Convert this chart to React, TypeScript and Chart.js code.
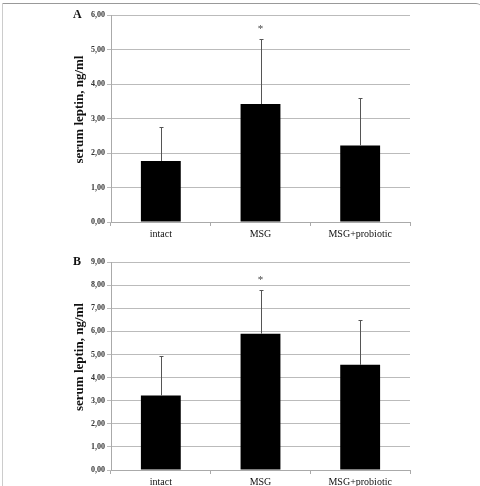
import React, { useEffect, useRef } from 'react';
import { Chart, registerables } from 'chart.js';

Chart.register(...registerables);

const categories = ['intact', 'MSG', 'MSG+probiotic'];

const meansA = [1.77, 3.42, 2.22];
const errorsA = [0.97, 1.87, 1.37];
const marksA = ['', '*', ''];
const yMaxA = 6;

const meansB = [3.22, 5.9, 4.55];
const errorsB = [1.7, 1.9, 1.92];
const marksB = ['', '*', ''];
const yMaxB = 9;

const yTitle = 'serum leptin, ng/ml';

type PanelProps = {
  letter: string;
  means: number[];
  errors: number[];
  marks: string[];
  yMax: number;
  padTop: number;
  padBottomAxis: number;
  height: number;
};

function Panel({ letter, means, errors, marks, yMax, padTop, padBottomAxis, height }: PanelProps) {
  const ref = useRef<HTMLCanvasElement | null>(null);

  useEffect(() => {
    if (!ref.current) return;
    const overlay = {
      id: 'overlay',
      afterDatasetsDraw(chart: any) {
        const ctx = chart.ctx;
        const meta = chart.getDatasetMeta(0);
        const ys = chart.scales.y;
        ctx.save();
        meta.data.forEach((el: any, i: number) => {
          const top = ys.getPixelForValue(means[i] + errors[i]);
          const x = Math.round(el.x) + 0.5;
          ctx.strokeStyle = '#555';
          ctx.lineWidth = 1;
          ctx.beginPath();
          ctx.moveTo(x, el.y);
          ctx.lineTo(x, Math.round(top) + 0.5);
          ctx.moveTo(x - 2, Math.round(top) + 0.5);
          ctx.lineTo(x + 2, Math.round(top) + 0.5);
          ctx.stroke();
          if (marks[i]) {
            ctx.fillStyle = '#444';
            ctx.font = '11px "Liberation Serif", serif';
            ctx.textAlign = 'center';
            ctx.textBaseline = 'middle';
            ctx.fillText(marks[i], el.x, top - 10);
          }
        });
        ctx.restore();
      },
      afterDraw(chart: any) {
        const ctx = chart.ctx;
        const a = chart.chartArea;
        ctx.save();
        ctx.fillStyle = '#111';
        ctx.font = 'bold 12px "Liberation Serif", serif';
        ctx.textAlign = 'left';
        ctx.textBaseline = 'middle';
        ctx.fillText(letter, 73, a.top);
        ctx.translate(80, (a.top + a.bottom) / 2 - 9);
        ctx.rotate(-Math.PI / 2);
        ctx.textAlign = 'center';
        ctx.font = 'bold 13px "Liberation Serif", serif';
        ctx.fillText(yTitle, 0, 0);
        ctx.restore();
      },
    };

    const chart = new Chart(ref.current, {
      type: 'bar',
      data: {
        labels: categories,
        datasets: [
          {
            data: means,
            backgroundColor: '#000',
            borderWidth: 0,
            barPercentage: 0.4,
            categoryPercentage: 1,
          },
        ],
      },
      options: {
        animation: false,
        responsive: false,
        devicePixelRatio: 1,
        layout: { padding: { left: 0, right: 70, top: padTop, bottom: 0 } },
        plugins: {
          legend: { display: false },
          tooltip: { enabled: false },
        },
        scales: {
          x: {
            grid: { display: true, drawOnChartArea: false, tickLength: 4, color: '#aaa', offset: true },
            border: { color: '#aaa' },
            ticks: {
              color: '#111',
              padding: 2,
              font: { family: '"Liberation Serif", serif', size: 10 },
            },
            afterFit: (s: any) => {
              s.height = padBottomAxis;
            },
          },
          y: {
            min: 0,
            max: yMax,
            grid: { color: '#bbb', tickLength: 4 },
            border: { color: '#aaa' },
            ticks: {
              stepSize: 1,
              padding: 2,
              color: '#333',
              font: { family: '"Liberation Serif", serif', size: 8, weight: 'bold' },
              callback: (v: any) => Number(v).toFixed(2).replace('.', ','),
            },
            afterFit: (s: any) => {
              s.width = 111;
            },
          },
        },
      },
      plugins: [overlay],
    } as any);
    return () => chart.destroy();
  }, []);

  return <canvas ref={ref} width={480} height={height} style={{ display: 'block', width: 480, height }} />;
}

export default function App() {
  return (
    <div style={{ position: 'absolute', left: 0, top: 0, width: 480, height: 486, background: '#fff', overflow: 'hidden' }}>
      <div
        style={{
          position: 'absolute',
          left: 2,
          top: 3,
          width: 480,
          height: 490,
          borderTop: '1px solid #999',
          borderLeft: '1px solid #ccc',
          borderTopRightRadius: 6,
          boxSizing: 'border-box',
        }}
      />
      <div style={{ position: 'absolute', left: 0, top: 0 }}>
        <Panel letter="A" means={meansA} errors={errorsA} marks={marksA} yMax={yMaxA} padTop={15} padBottomAxis={21} height={243} />
      </div>
      <div style={{ position: 'absolute', left: 0, top: 243 }}>
        <Panel letter="B" means={meansB} errors={errorsB} marks={marksB} yMax={yMaxB} padTop={19} padBottomAxis={16} height={243} />
      </div>
    </div>
  );
}
